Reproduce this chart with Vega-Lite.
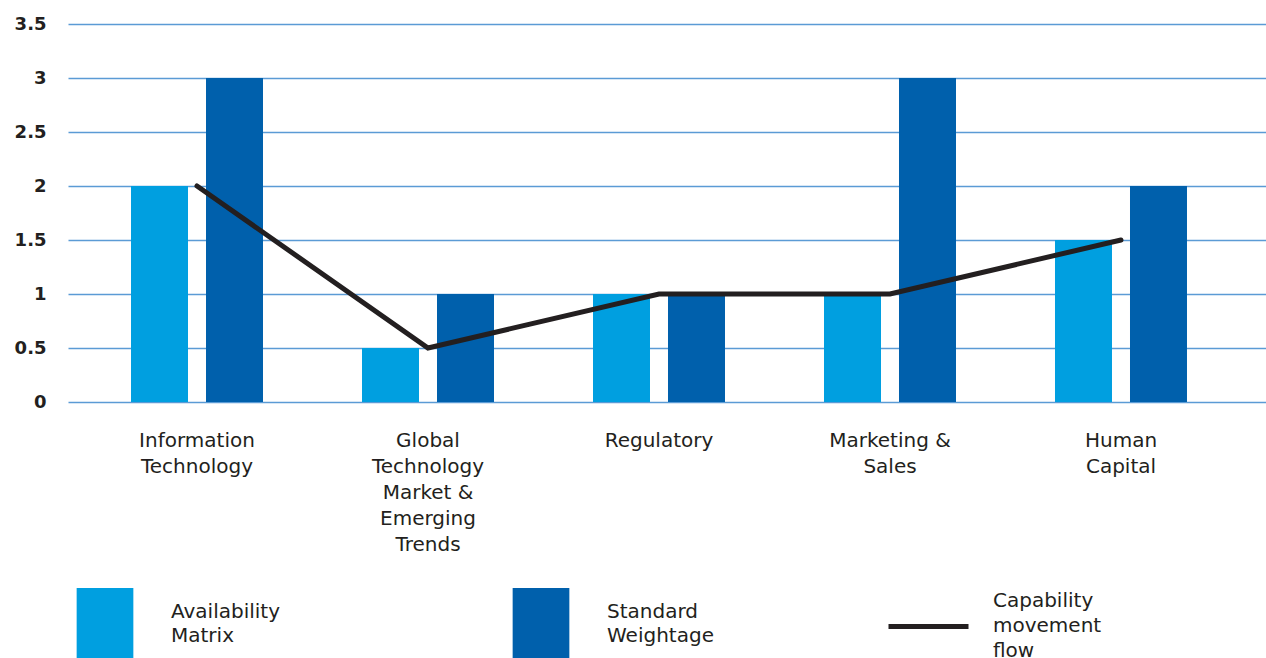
{
  "$schema": "https://vega.github.io/schema/vega-lite/v6.json",
  "autosize": {"type": "none"},
  "padding": {"left": 68, "top": 24, "right": 0, "bottom": 256},
  "width": 1198,
  "height": 378,
  "background": "white",
  "config": {
    "view": {"stroke": null},
    "font": "DejaVu Sans",
    "legend": {"padding": 0}
  },
  "data": {
    "values": [
      {"category": "Information Technology", "series": "Availability Matrix", "value": 2},
      {"category": "Information Technology", "series": "Standard Weightage", "value": 3},
      {"category": "Global Technology Market & Emerging Trends", "series": "Availability Matrix", "value": 0.5},
      {"category": "Global Technology Market & Emerging Trends", "series": "Standard Weightage", "value": 1},
      {"category": "Regulatory", "series": "Availability Matrix", "value": 1},
      {"category": "Regulatory", "series": "Standard Weightage", "value": 1},
      {"category": "Marketing & Sales", "series": "Availability Matrix", "value": 1},
      {"category": "Marketing & Sales", "series": "Standard Weightage", "value": 3},
      {"category": "Human Capital", "series": "Availability Matrix", "value": 1.5},
      {"category": "Human Capital", "series": "Standard Weightage", "value": 2}
    ]
  },
  "encoding": {
    "x": {
      "field": "category",
      "type": "nominal",
      "sort": null,
      "scale": {"paddingInner": 0, "paddingOuter": 0.0931, "align": 0.314},
      "axis": {
        "title": null,
        "domain": false,
        "ticks": false,
        "labelAngle": 0,
        "labelPadding": 28,
        "labelFontSize": 20,
        "labelColor": "#231f20",
        "labelLineHeight": 26,
        "labelLimit": 0,
        "labelExpr": "datum.value == 'Information Technology' ? ['Information', 'Technology'] : datum.value == 'Global Technology Market & Emerging Trends' ? ['Global', 'Technology', 'Market &', 'Emerging', 'Trends'] : datum.value == 'Marketing & Sales' ? ['Marketing &', 'Sales'] : datum.value == 'Human Capital' ? ['Human', 'Capital'] : datum.value"
      }
    },
    "y": {
      "field": "value",
      "type": "quantitative",
      "scale": {"domain": [0, 3.5], "nice": false},
      "axis": {
        "title": null,
        "domain": false,
        "ticks": false,
        "values": [0, 0.5, 1, 1.5, 2, 2.5, 3, 3.5],
        "format": "~g",
        "labelPadding": 22,
        "labelFontSize": 18,
        "labelFontWeight": "bold",
        "labelColor": "#231f20",
        "gridColor": "#5b9bd5",
        "gridWidth": 1.5,
        "gridOpacity": 1
      }
    }
  },
  "layer": [
    {
      "mark": {"type": "bar"},
      "encoding": {
        "xOffset": {
          "field": "series",
          "type": "nominal",
          "scale": {"paddingInner": 0.24, "paddingOuter": 0.66}
        },
        "color": {
          "field": "series",
          "type": "nominal",
          "scale": {
            "domain": ["Availability Matrix", "Standard Weightage"],
            "range": ["#009fe0", "#0060ac"]
          },
          "legend": {
            "title": null,
            "orient": "none",
            "direction": "horizontal",
            "legendX": 2,
            "legendY": 564,
            "symbolType": "M-0.81,-1H0.81V1H-0.81Z",
            "symbolSize": 4900,
            "symbolStrokeWidth": 0,
            "symbolOpacity": 1,
            "labelOffset": 31,
            "labelFontSize": 20,
            "labelColor": "#231f20",
            "labelLimit": 0,
            "columnPadding": 225,
            "labelExpr": "datum.value == 'Availability Matrix' ? ['Availability', 'Matrix'] : ['Standard', 'Weightage']",
            "encode": {"labels": {"update": {"dy": {"value": -11}, "lineHeight": {"value": 24}}}}
          }
        }
      }
    },
    {
      "transform": [{"filter": "datum.series == 'Availability Matrix'"}],
      "mark": {"type": "line", "strokeWidth": 5, "strokeCap": "round"},
      "encoding": {
        "stroke": {
          "datum": "Capability movement flow",
          "scale": {"range": ["#231f20"]},
          "legend": {
            "title": null,
            "orient": "none",
            "legendX": 818,
            "legendY": 560,
            "symbolType": "stroke",
            "symbolSize": 6400,
            "symbolStrokeWidth": 5,
            "symbolStrokeColor": "#231f20",
            "labelOffset": 22,
            "labelFontSize": 20,
            "labelColor": "#231f20",
            "labelLimit": 0,
            "labelExpr": "['Capability', 'movement', 'flow']",
            "encode": {"labels": {"update": {"dy": {"value": -26}, "lineHeight": {"value": 25}}}}
          }
        }
      }
    }
  ]
}
